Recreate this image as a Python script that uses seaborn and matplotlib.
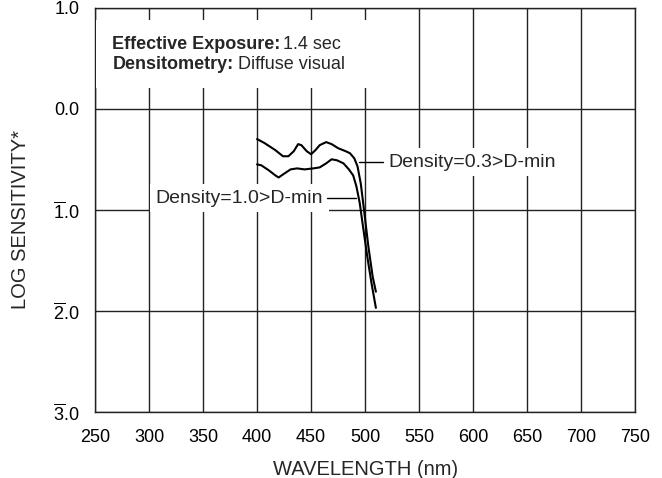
import matplotlib
matplotlib.use("Agg")
import matplotlib.pyplot as plt
import seaborn as sns
import pandas as pd
from matplotlib.patches import Rectangle

# Density = 0.3 > D-min
wl_03 = [400, 407, 417, 424, 429, 434, 438, 441, 446, 450, 454, 458, 464,
         469, 475, 482, 486, 490, 493, 496, 499, 503, 507, 510]
ls_03 = [-0.30, -0.34, -0.41, -0.47, -0.47, -0.42, -0.35, -0.36, -0.42, -0.45,
         -0.41, -0.36, -0.33, -0.35, -0.39, -0.42, -0.44, -0.49, -0.57, -0.74,
         -1.00, -1.36, -1.66, -1.81]

# Density = 1.0 > D-min
wl_10 = [400, 404, 411, 417, 420, 424, 431, 437, 444, 452, 458, 464, 469,
         474, 480, 485, 489, 492, 495, 498, 502, 506, 510]
ls_10 = [-0.55, -0.56, -0.61, -0.66, -0.68, -0.65, -0.60, -0.59, -0.60, -0.59,
         -0.58, -0.54, -0.50, -0.51, -0.54, -0.60, -0.66, -0.77, -0.93, -1.16,
         -1.46, -1.73, -1.97]

x_ticks = list(range(250, 751, 50))
y_ticks = [1, 0, -1, -2, -3]
y_labels = ["1.0", "0.0", r"$\overline{\mathregular{1}}$.0",
            r"$\overline{\mathregular{2}}$.0", r"$\overline{\mathregular{3}}$.0"]

sns.set_theme(style="white")
plt.rcParams["font.family"] = ["Liberation Sans", "DejaVu Sans"]
plt.rcParams["mathtext.fontset"] = "custom"
plt.rcParams["mathtext.rm"] = "Liberation Sans"
plt.rcParams["mathtext.it"] = "Liberation Sans"

df = pd.concat([
    pd.DataFrame({"wl": wl_03, "ls": ls_03, "curve": "0.3"}),
    pd.DataFrame({"wl": wl_10, "ls": ls_10, "curve": "1.0"}),
])

fig = plt.figure(figsize=(6.62, 4.78), dpi=100)
ax = fig.add_axes([0.1435, 0.138, 0.816, 0.846])

sns.lineplot(data=df, x="wl", y="ls", units="curve", estimator=None,
             color="black", lw=1.5, sort=False, ax=ax, zorder=5)

ax.set_xlim(250, 750)
ax.set_ylim(-3, 1)
ax.set_xticks(x_ticks)
ax.set_yticks(y_ticks)
ax.set_yticklabels(y_labels)
ax.tick_params(axis="both", length=0, labelsize=13, colors="black")
ax.tick_params(axis="y", pad=11)
ax.tick_params(axis="x", pad=12)
ax.grid(True, color="#222222", lw=1.0)
for sp in ax.spines.values():
    sp.set_color("#222222")
    sp.set_linewidth(1.0)

ax.set_xlabel("WAVELENGTH (nm)", fontsize=14.5, labelpad=10)
ax.set_ylabel("LOG SENSITIVITY*", fontsize=14.5)
ax.yaxis.set_label_coords(-0.12, 0.475)

# white area behind the exposure note
ax.add_patch(Rectangle((251, 0.21), 254, 0.665, facecolor="white",
                       edgecolor="none", zorder=3))
t1 = ax.text(266, 0.64, "Effective Exposure:", fontsize=13, fontweight="bold",
             va="center", zorder=6)
ax.annotate("1.4 sec", xy=(1, 0.5), xycoords=t1, xytext=(2, 0),
            textcoords="offset points", va="center", fontsize=13, zorder=6)
t2 = ax.text(266, 0.44, "Densitometry:", fontsize=13, fontweight="bold",
             va="center", zorder=6)
ax.annotate("Diffuse visual", xy=(1, 0.5), xycoords=t2, xytext=(3, 0),
            textcoords="offset points", va="center", fontsize=13, zorder=6)

box = dict(facecolor="white", edgecolor="none", pad=4)
ax.plot([494, 517], [-0.53, -0.53], color="black", lw=1.0, zorder=6)
ax.text(521.5, -0.53, "Density=0.3>D-min", fontsize=14, va="center",
        bbox=box, zorder=4)
ax.plot([464.5, 492], [-0.886, -0.886], color="black", lw=1.0, zorder=6)
ax.text(461, -0.886, "Density=1.0>D-min", fontsize=14, va="center", ha="right",
        bbox=box, zorder=4)

fig.savefig("out.png", dpi=100)
